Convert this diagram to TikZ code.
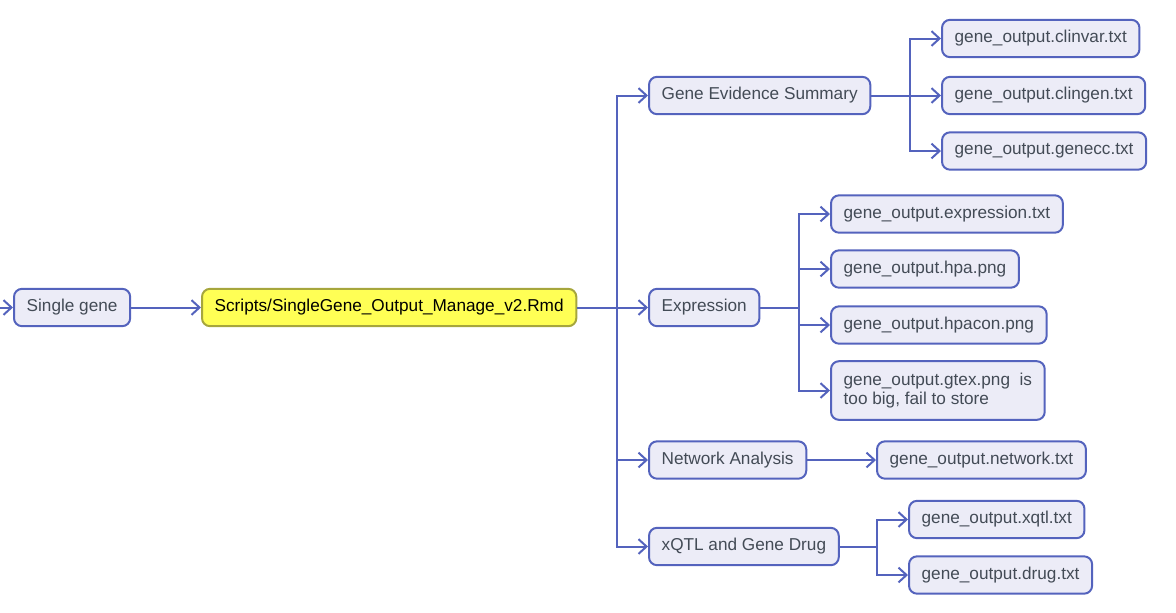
\documentclass[tikz,border=0pt]{standalone}
\usepackage{fontspec}
\setmainfont{Liberation Sans}
\usepackage{tikz}
\usetikzlibrary{arrows.meta, positioning, calc}
\usepackage{xcolor}
\definecolor{edgeblue}{HTML}{5463BD}
\definecolor{boxfill}{HTML}{ECECF7}
\definecolor{txtgrey}{HTML}{434B56}
\definecolor{yelfill}{HTML}{FFFF55}
\definecolor{yeledge}{HTML}{A6A63C}

\tikzset{
  filebox/.style={draw=edgeblue, fill=boxfill, line width=1.5pt, rounded corners=6pt,
    text=txtgrey, font=\fontsize{12.9pt}{14.5pt}\selectfont, inner xsep=9.5pt,
    minimum height=28pt, anchor=west, align=left},
  scriptbox/.style={filebox, draw=yeledge, fill=yelfill, text=black},
  link/.style={draw=edgeblue, line width=1.5pt, -{Straight Barb[length=6pt, width=11pt, line width=1.5pt]}},
  trunk/.style={draw=edgeblue, line width=1.5pt}
}

\begin{document}
\begin{tikzpicture}[x=0.75pt, y=-0.75pt]
  \useasboundingbox (0,0) rectangle (1176,612);

  % main chain
  \coordinate (start) at (0,307.5);
  \node[filebox] (single) at (13,307.5) {Single gene};
  \node[scriptbox] (rmd) at (201,307.5) {Scripts/SingleGene\_Output\_Manage\_v2.Rmd};

  % sections
  \node[filebox] (evid) at (648,95.5) {Gene Evidence Summary};
  \node[filebox] (expr) at (648,307.5) {Expression};
  \node[filebox] (netw) at (648,460) {Network Analysis};
  \node[filebox] (xqtl) at (648,546.5) {xQTL and Gene Drug};

  % output files
  \node[filebox] (clinvar) at (941,38.5) {gene\_output.clinvar.txt};
  \node[filebox] (clingen) at (941,95.5) {gene\_output.clingen.txt};
  \node[filebox] (genecc) at (941,151) {gene\_output.genecc.txt};
  \node[filebox] (exprtxt) at (830,214) {gene\_output.expression.txt};
  \node[filebox] (hpa) at (830,269) {gene\_output.hpa.png};
  \node[filebox] (hpacon) at (830,325) {gene\_output.hpacon.png};
  \node[filebox, minimum height=44pt] (gtex) at (830,390.5) {gene\_output.gtex.png\ \ is\\too big, fail to store};
  \node[filebox] (nettxt) at (876,460) {gene\_output.network.txt};
  \node[filebox] (xqtltxt) at (908,519.5) {gene\_output.xqtl.txt};
  \node[filebox] (drug) at (908,575) {gene\_output.drug.txt};

  % connectors
  \draw[link] (start) -- (single);
  \draw[link] (single) -- (rmd);

  \coordinate (hub) at (617,307.5);
  \draw[trunk] (rmd.east) -- (hub);
  \foreach \s in {evid, expr, netw, xqtl}
    \draw[link] (hub) |- (\s.west);

  \coordinate (evhub) at (910,95.5);
  \draw[trunk] (evid.east) -- (evhub);
  \foreach \f in {clinvar, clingen, genecc}
    \draw[link] (evhub) |- (\f.west);

  \coordinate (exhub) at (799,307.5);
  \draw[trunk] (expr.east) -- (exhub);
  \foreach \f in {exprtxt, hpa, hpacon, gtex}
    \draw[link] (exhub) |- (\f.west);

  \draw[link] (netw) -- (nettxt);

  \coordinate (xqhub) at (877,546.5);
  \draw[trunk] (xqtl.east) -- (xqhub);
  \foreach \f in {xqtltxt, drug}
    \draw[link] (xqhub) |- (\f.west);
\end{tikzpicture}
\end{document}
